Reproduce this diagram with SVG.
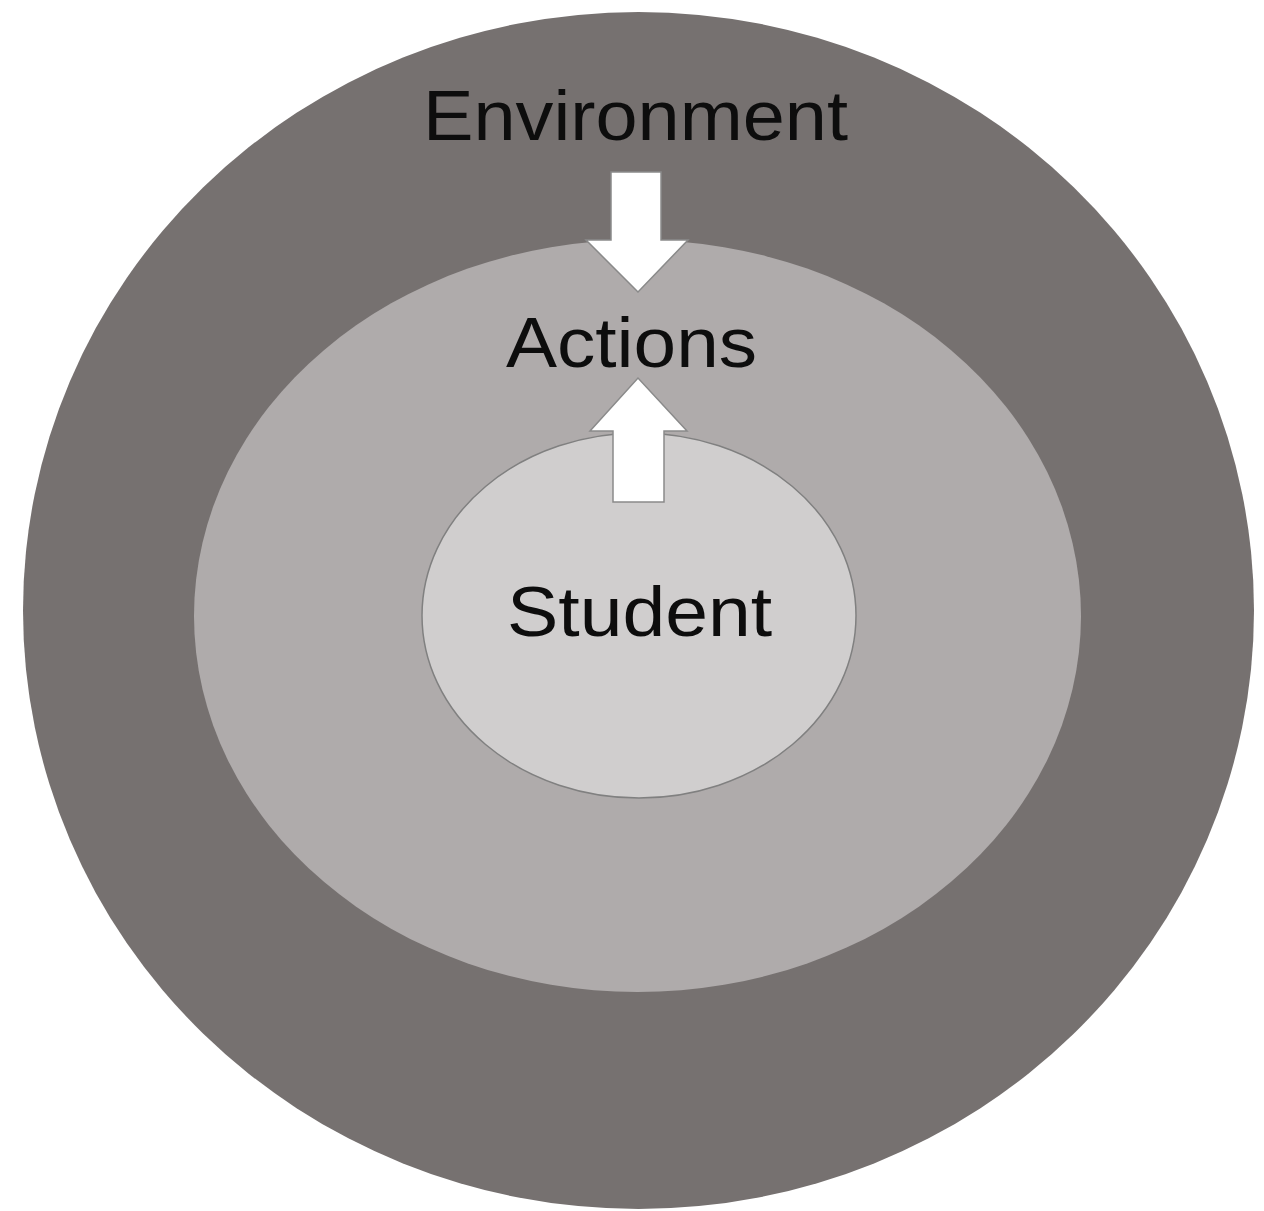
<svg xmlns="http://www.w3.org/2000/svg" width="1264" height="1211" viewBox="0 0 1264 1211">
<style>
.lbl{font-family:"Liberation Sans",Arial,sans-serif;font-size:70px;fill:#0d0d0d}
.arrow{fill:#ffffff;stroke:#8a8a8a;stroke-width:1.5;stroke-linejoin:miter}
</style>
<rect width="1264" height="1211" fill="#ffffff"/>
<g id="environment">
<ellipse cx="638.5" cy="610.5" rx="615.5" ry="598.5" fill="#767170"/>
<text class="lbl" x="423" y="140" textLength="425" lengthAdjust="spacingAndGlyphs">Environment</text>
</g>
<g id="actions">
<ellipse cx="637.5" cy="616" rx="443.5" ry="376" fill="#afabab"/>
<text class="lbl" x="506" y="367" textLength="251" lengthAdjust="spacingAndGlyphs">Actions</text>
</g>
<g id="student">
<ellipse cx="639" cy="615.5" rx="217" ry="182.5" fill="#d0cece" stroke="#808080" stroke-width="1.5"/>
<text class="lbl" x="507" y="636" textLength="265" lengthAdjust="spacingAndGlyphs">Student</text>
</g>
<g id="connectors">
<polygon class="arrow" points="611,172 661,172 661,240 688,240 638,292 586,240 611,240"/>
<polygon class="arrow" points="613,502 664,502 664,431 687,431 638,378 590,431 613,431"/>
</g>
</svg>
